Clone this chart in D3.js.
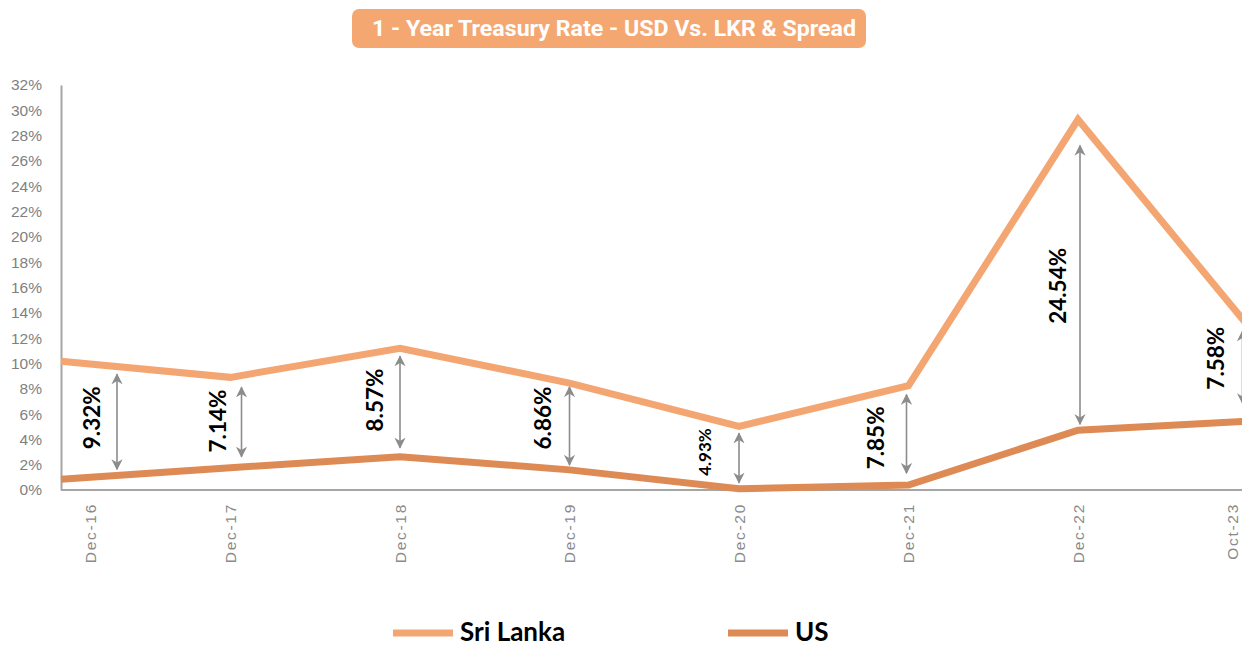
<!DOCTYPE html>
<html>
<head>
<meta charset="utf-8">
<script src="https://cdn.jsdelivr.net/npm/d3@7"></script>
<style>
    body { margin: 0; background: #fff; }
    svg { display: block; }
    .y-axis text { font-family: "Liberation Sans", sans-serif; font-size: 15.5px; fill: #7f7f7f; }
    .x-axis text { font-family: "Liberation Sans", sans-serif; font-size: 15.5px; fill: #8a8a8a; letter-spacing: 1.7px; }
    .axis path, .axis line { stroke: #a6a6a6; stroke-width: 2px; }
</style>
</head>
<body>
<div id="chart"></div>
<script>

// data
const categories = ["Dec-16", "Dec-17", "Dec-18", "Dec-19", "Dec-20", "Dec-21", "Dec-22", "Oct-23"];
const sriLanka = [10.17, 8.90, 11.20, 8.45, 5.03, 8.24, 29.27, 13.02];
const us = [0.85, 1.76, 2.63, 1.59, 0.10, 0.39, 4.73, 5.44];
const spreads = ["9.32%", "7.14%", "8.57%", "6.86%", "4.93%", "7.85%", "24.54%", "7.58%"];
const yTicks = d3.range(0, 33, 2);

// annotation layout: arrow x shift, trims at top/bottom, label offsets
const arrowDx = [56, 11, 0, 0, 0, -2, 2, -5];
const arrowTrim = [[13, 10], [10, 11], [8, 9], [4, 5], [7, 6], [9, 12], [26, 6], [6, 18]];
const labelDx = [-26, -24, -26, -27, -35, -31, -23, -27];
const labelDy = [-4, -1, -2, -8, -6, 4, 1, -9];

const W = 1242, H = 646;
const margin = {top: 85, left: 61, bottom: 156};

let svg = d3.select("#chart").append("svg")
    .attr("width", W)
    .attr("height", H);

let defs = svg.append("defs");
["start", "end"].forEach(k => {
    defs.append("marker")
        .attr("id", "arrow-" + k)
        .attr("viewBox", "0 0 10 10")
        .attr("refX", 9).attr("refY", 5)
        .attr("markerWidth", 7).attr("markerHeight", 7)
        .attr("orient", k == "start" ? "auto-start-reverse" : "auto")
        .append("path")
        .attr("d", "M0,0 L10,5 L0,10 L3,5 Z")
        .attr("fill", "#8c8c8c");
});

// title
let title = svg.append("g");
title.append("rect")
    .attr("x", 352).attr("y", 9)
    .attr("width", 514).attr("height", 39)
    .attr("rx", 7)
    .attr("fill", "#f5a772");
title.append("text")
    .attr("x", 372).attr("y", 36)
    .attr("textLength", 484)
    .attr("lengthAdjust", "spacingAndGlyphs")
    .attr("font-family", "Roboto, sans-serif")
    .attr("font-weight", 700)
    .attr("font-size", "22px")
    .attr("fill", "#fff")
    .text("1 - Year Treasury Rate - USD Vs. LKR & Spread");

let x = d3.scalePoint()
    .domain(categories)
    .range([margin.left, 1247.5]);

let y = d3.scaleLinear()
    .domain([0, 32])
    .range([H - margin.bottom, margin.top]);

// y axis
svg.append("g")
    .attr("class", "y-axis axis")
    .attr("transform", `translate(${margin.left},0)`)
    .call(d3.axisLeft(y).tickValues(yTicks).tickSize(0).tickSizeOuter(0).tickPadding(19)
        .tickFormat(d => d + "%"))
    .selectAll("line").remove();

// x axis
let xAxis = svg.append("g")
    .attr("class", "x-axis axis")
    .attr("transform", `translate(0,${y(0)})`)
    .call(d3.axisBottom(x).tickSize(0).tickSizeOuter(0).tickFormat(""));
xAxis.select("path").attr("d", `M${margin.left},0H${W}`);

svg.append("g")
    .attr("class", "x-axis")
    .selectAll("text")
    .data(categories)
    .enter().append("text")
    .attr("transform", d => {
        let px = Math.min(Math.max(x(d), 90), 1232);
        return `translate(${px},${y(0) + 13}) rotate(-90)`;
    })
    .attr("text-anchor", "end")
    .attr("dominant-baseline", "central")
    .text(d => d);

// lines
let line = d3.line()
    .x((d, i) => x(categories[i]))
    .y(d => y(d));

svg.append("path")
    .datum(us)
    .attr("d", line)
    .attr("fill", "none")
    .attr("stroke", "#de8a55")
    .attr("stroke-width", 7);

svg.append("path")
    .datum(sriLanka)
    .attr("d", line)
    .attr("fill", "none")
    .attr("stroke", "#f4a672")
    .attr("stroke-width", 7);

// spread annotations
let ann = svg.append("g").selectAll("g")
    .data(categories)
    .enter().append("g");

ann.append("line")
    .attr("x1", (d, i) => x(d) + arrowDx[i])
    .attr("x2", (d, i) => x(d) + arrowDx[i])
    .attr("y1", (d, i) => y(sriLanka[i]) + arrowTrim[i][0])
    .attr("y2", (d, i) => y(us[i]) - arrowTrim[i][1])
    .attr("stroke", "#8c8c8c")
    .attr("stroke-width", 1.6)
    .attr("marker-start", "url(#arrow-start)")
    .attr("marker-end", "url(#arrow-end)");

ann.append("text")
    .attr("transform", (d, i) => {
        let ax = x(d) + arrowDx[i] + labelDx[i];
        let ay = (y(sriLanka[i]) + arrowTrim[i][0] + y(us[i]) - arrowTrim[i][1]) / 2 + labelDy[i];
        return `translate(${ax},${ay}) rotate(-90)`;
    })
    .attr("text-anchor", "middle")
    .attr("dominant-baseline", "central")
    .attr("font-family", "Lato, sans-serif")
    .attr("font-weight", 700)
    .attr("font-size", (d, i) => spreads[i] == "4.93%" ? "17px" : "22.5px")
    .attr("fill", "#000")
    .text((d, i) => spreads[i]);

// legend
const legendItems = [
    {name: "Sri Lanka", color: "#f4a672", x: 393},
    {name: "US", color: "#de8a55", x: 728}
];
let legend = svg.append("g").selectAll("g")
    .data(legendItems)
    .enter().append("g")
    .attr("transform", d => `translate(${d.x},633)`);

legend.append("line")
    .attr("x1", 0).attr("x2", 60)
    .attr("stroke", d => d.color)
    .attr("stroke-width", 7);

legend.append("text")
    .attr("x", 67)
    .attr("y", 8)
    .attr("font-family", "Lato, sans-serif")
    .attr("font-weight", 700)
    .attr("font-size", "26px")
    .attr("fill", "#000")
    .text(d => d.name);

</script>
</body>
</html>
